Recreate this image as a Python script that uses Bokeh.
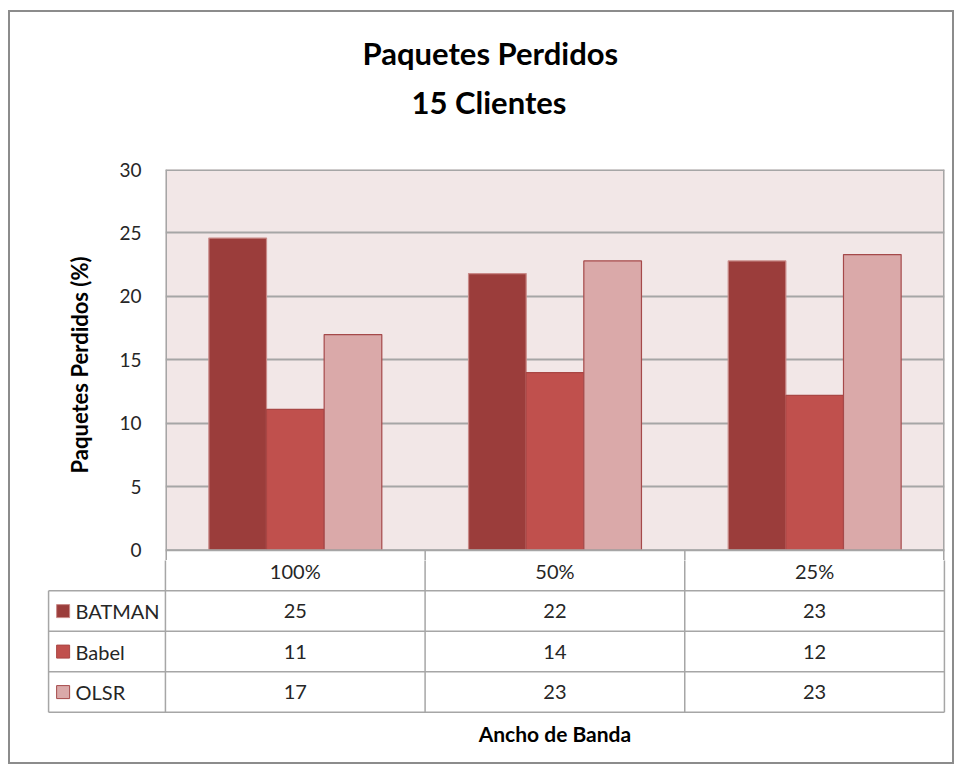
from bokeh.plotting import figure
from bokeh.models import Range1d, FactorRange, ColumnDataSource, FixedTicker, Title
from bokeh.layouts import column, row
from bokeh.transform import dodge
from bokeh.embed import file_html
from bokeh.resources import INLINE
from bokeh.core.properties import value

# ---------------- data ----------------
categories = ["100%", "50%", "25%"]
series = ["BATMAN", "Babel", "OLSR"]
batman = [24.6, 21.8, 22.8]
babel = [11.1, 14.0, 12.2]
olsr = [17.0, 22.8, 23.3]
y_ticks = [0, 5, 10, 15, 20, 25, 30]
title_lines = ["Paquetes Perdidos", "15 Clientes"]
y_label = "Paquetes Perdidos (%)"
x_label = "Ancho de Banda"

# ---------------- style ----------------
FONT = "Lato"
fill_colors = ["#9B3D3B", "#C0504D", "#DAA9A9"]
edge_colors = ["#C98A88", "#A94644", "#A5494A"]
grid_color = "#A6A6A6"
text_color = "#262626"
W = 942
H1 = 548
H2 = 202
TOP = 157
Y_MAX = 30
Y_STRIP = -0.8          # small white strip under the plot (top of the table header)

values = [batman, babel, olsr]
n_cols = len(categories)

# ---------------- chart ----------------
p1 = figure(width=W, height=H1, x_range=FactorRange(*categories), y_range=Range1d(Y_STRIP, Y_MAX),
            output_backend="svg", toolbar_location=None, x_axis_location=None,
            min_border_left=155, min_border_right=8, min_border_top=TOP, min_border_bottom=0)
p1.background_fill_color = "#F2E7E7"
p1.border_fill_color = "white"
p1.outline_line_color = None
p1.xgrid.grid_line_color = None
p1.ygrid.grid_line_color = grid_color
p1.ygrid.grid_line_width = 2
p1.yaxis.ticker = FixedTicker(ticks=y_ticks)
p1.yaxis.axis_line_color = None
p1.yaxis.major_tick_line_color = None
p1.yaxis.minor_tick_line_color = None
p1.yaxis.major_label_text_font = FONT
p1.yaxis.major_label_text_font_size = "19px"
p1.yaxis.major_label_text_color = text_color
p1.yaxis.major_label_standoff = 18
p1.yaxis.axis_label = y_label
p1.yaxis.axis_label_text_font = FONT
p1.yaxis.axis_label_text_font_size = "22px"
p1.yaxis.axis_label_text_font_style = "bold"
p1.yaxis.axis_label_text_color = "black"
p1.yaxis.axis_label_standoff = 23

# white strip below zero (part of the table header row)
p1.quad(left=[0], right=[n_cols], bottom=[Y_STRIP], top=[0], fill_color="white", line_color=None)

src = ColumnDataSource(dict(cat=categories, BATMAN=batman, Babel=babel, OLSR=olsr))
bw = 0.222
offsets = [-bw, 0.0, bw]
for name, off, fc, ec in zip(series, offsets, fill_colors, edge_colors):
    p1.vbar(x=dodge("cat", off, range=p1.x_range), top=name, width=bw, source=src,
            fill_color=fc, line_color=ec, line_width=1.2)

# plot-area border + header column separators
bx0 = [0, n_cols, 0, 0] + list(range(1, n_cols))
bx1 = [0, n_cols, n_cols, n_cols] + list(range(1, n_cols))
by0 = [Y_STRIP, Y_STRIP, Y_MAX, 0] + [Y_STRIP] * (n_cols - 1)
by1 = [Y_MAX, Y_MAX, Y_MAX, 0] + [0] * (n_cols - 1)
p1.segment(x0=bx0, y0=by0, x1=bx1, y1=by1, line_color=grid_color, line_width=[3, 3, 3, 2] + [1.5] * (n_cols - 1))

# titles: spacer first (closest to the frame), then the two lines outward
p1.add_layout(Title(text=" ", standoff=30, text_font=FONT, text_font_size="10px"), "above")
p1.add_layout(Title(text=title_lines[1], align="left", offset=246, standoff=9,
                    text_font=FONT, text_font_size="31px", text_font_style="bold",
                    text_color="black"), "above")
p1.add_layout(Title(text=title_lines[0], align="left", offset=197, standoff=9,
                    text_font=FONT, text_font_size="31px", text_font_style="bold",
                    text_color="black"), "above")

# ---------------- data table ----------------
pad_x = 0.008
left_col = -0.45
row_px = 40.5
strip_px = -Y_STRIP * (H1 - TOP) / (Y_MAX - Y_STRIP)
y_top = strip_px / row_px
y_bottom = y_top + H2 / row_px
p2 = figure(width=W, height=H2, x_range=Range1d(left_col - pad_x, n_cols + pad_x), y_range=Range1d(y_bottom, y_top),
            output_backend="svg", toolbar_location=None, x_axis_location=None, y_axis_location=None,
            min_border_left=36, min_border_right=6, min_border_top=0, min_border_bottom=0)
p2.outline_line_color = None
p2.grid.grid_line_color = None
p2.background_fill_color = "white"
p2.border_fill_color = "white"

n_rows = len(series) + 1
x0s, y0s, x1s, y1s = [], [], [], []
for r in range(1, n_rows + 1):
    x0s.append(left_col); x1s.append(n_cols); y0s.append(r); y1s.append(r)
x0s.append(left_col); x1s.append(left_col); y0s.append(1); y1s.append(n_rows)
for c in range(n_cols + 1):
    x0s.append(c); x1s.append(c); y0s.append(0); y1s.append(n_rows)
p2.segment(x0=x0s, y0=y0s, x1=x1s, y1=y1s, line_color=grid_color, line_width=1.5)

p2.text(x=[i + 0.5 for i in range(n_cols)], y=[0.5] * n_cols, text=categories,
        text_font=value(FONT), text_font_size="20px", text_color=text_color,
        text_align="center", text_baseline="middle")
for r, (name, vals, fc, ec) in enumerate(zip(series, values, fill_colors, edge_colors)):
    yy = r + 1.5
    p2.text(x=[i + 0.5 for i in range(n_cols)], y=[yy] * n_cols,
            text=[str(int(v + 0.5)) for v in vals],
            text_font=value(FONT), text_font_size="20px", text_color=text_color,
            text_align="center", text_baseline="middle")
    p2.rect(x=[left_col + 0.056], y=[yy], width=13, height=13, width_units="screen", height_units="screen",
            fill_color=fc, line_color=ec, line_width=1)
    p2.text(x=[left_col + 0.104], y=[yy], text=[name], text_font=value(FONT), text_font_size="20px",
            text_color=text_color, text_align="left", text_baseline="middle")

p2.text(x=[n_cols / 2], y=[4.52], text=[x_label], text_font=value(FONT), text_font_size="21px",
        text_font_style="bold", text_color="black", text_align="center", text_baseline="middle")

layout = column(p1, row(p2), spacing=0,
                styles={"border": "2px solid #8C8C8C", "margin-left": "8px", "margin-top": "10px"})
open("out.html", "w").write(file_html(layout, INLINE))
